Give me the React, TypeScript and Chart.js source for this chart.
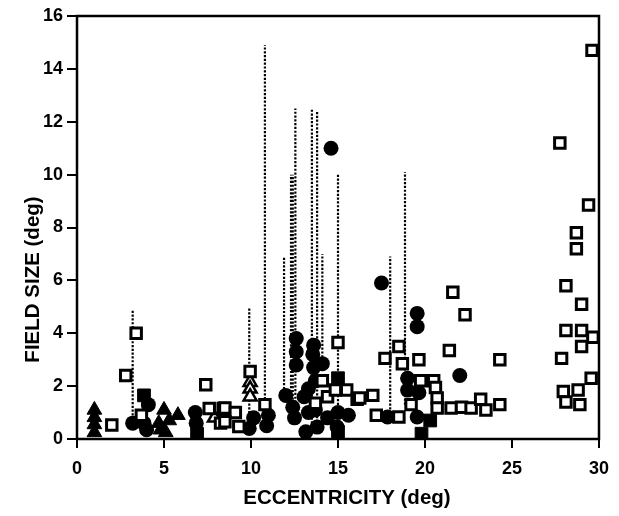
import React, { useEffect, useRef } from "react";
import { Chart, registerables } from "chart.js";

Chart.register(...registerables);

// Filled triangles
const filledTriX = [1.0, 1.0, 1.0, 1.0, 5.0, 4.7, 5.3, 5.8, 5.1, 4.8];
const filledTriY = [1.1, 0.82, 0.55, 0.25, 1.1, 0.6, 0.7, 0.9, 0.25, 0.35];

// Open triangles
const openTriX = [7.9, 9.95, 9.95, 9.95];
const openTriY = [0.8, 2.15, 1.9, 1.6];

// Filled circles
const circX = [3.2, 4.1, 3.85, 4.0, 6.8, 6.85, 10.15, 9.9, 11.0, 10.9,
  12.6, 12.6, 12.6, 12.0, 12.4, 12.5, 13.15, 13.05, 13.6, 13.55, 13.6, 14.1, 13.7, 13.7, 13.8, 14.4, 15.0, 15.6, 14.95, 13.3, 13.3,
  14.6, 17.5, 19.55, 19.55, 19.0, 19.0, 19.65, 19.55, 22.0, 17.85];
const circY = [0.6, 1.3, 0.6, 0.35, 1.0, 0.6, 0.8, 0.4, 0.9, 0.5,
  3.8, 3.3, 2.8, 1.65, 1.2, 0.8, 0.27, 1.6, 3.55, 3.2, 2.7, 2.85, 2.2, 1.1, 0.45, 0.8, 1.0, 0.9, 0.45, 1.9, 1.0,
  11.0, 5.9, 4.75, 4.25, 2.3, 1.85, 1.75, 0.83, 2.4, 0.83];

// Open squares
const sqX = [2.0, 3.4, 2.8, 3.7, 7.4, 7.6, 8.4, 8.25, 8.5, 9.1, 8.5, 9.3, 9.95, 10.8,
  14.1, 15.0, 14.4, 14.85, 15.5, 16.1, 13.7,
  21.6, 22.3, 21.4, 17.7, 18.5, 18.7, 19.65, 19.75, 20.5, 20.6, 20.7, 20.7, 21.5, 22.1, 22.65, 23.2, 23.5, 16.25, 17.0, 17.2, 18.5, 19.2,
  27.75, 29.4, 28.7, 28.7, 28.1, 29.0, 28.1, 29.0, 29.65, 29.0, 27.85, 24.3, 29.55, 27.95, 28.8, 28.1, 28.9, 24.3, 29.6];
const sqY = [0.53, 4.0, 2.4, 0.9, 2.05, 1.15, 1.15, 0.6, 1.17, 1.0, 0.65, 0.47, 2.55, 1.3,
  2.2, 3.65, 1.6, 1.85, 1.85, 1.5, 1.35,
  5.55, 4.7, 3.35, 3.05, 3.5, 2.85, 3.0, 2.2, 2.2, 1.95, 1.55, 1.17, 1.17, 1.2, 1.17, 1.5, 1.1, 1.55, 1.65, 0.9, 0.83, 1.3,
  11.2, 8.85, 7.8, 7.2, 5.8, 5.1, 4.1, 4.1, 3.85, 3.5, 3.05, 3.0, 2.3, 1.8, 1.85, 1.4, 1.3, 1.3, 14.7];

// Filled squares
const fsqX = [3.85, 6.9, 15.0, 20.3, 19.8, 15.0];
const fsqY = [1.65, 0.2, 2.3, 0.7, 0.2, 0.27];

// Dotted vertical lines (x, bottom, top)
const lineX = [3.2, 9.9, 10.8, 11.9, 12.3, 12.4, 12.55, 13.5, 13.8, 14.1, 15.0, 18.0, 18.85];
const lineBottom = [0.6, 0.4, 0.5, 1.6, 1.2, 1.2, 0.8, 0.3, 0.5, 2.8, 1.0, 0.83, 1.3];
const lineTop = [4.9, 5.0, 14.9, 6.9, 10.0, 10.0, 12.5, 12.5, 12.4, 7.0, 10.05, 6.9, 10.1];

const xTicks = [0, 5, 10, 15, 20, 25, 30];
const yTicks = [0, 2, 4, 6, 8, 10, 12, 14, 16];
const xTitle = "ECCENTRICITY (deg)";
const yTitle = "FIELD SIZE (deg)";

const zip = (xs: number[], ys: number[]) => xs.map((x, i) => ({ x, y: ys[i] }));

export default function App() {
  const ref = useRef<HTMLCanvasElement | null>(null);

  useEffect(() => {
    document.body.style.margin = "0";
    if (!ref.current) return;

    const lineData: any[] = [];
    lineX.forEach((x, i) => {
      lineData.push({ x, y: lineBottom[i] });
      lineData.push({ x, y: lineTop[i] });
      lineData.push({ x, y: null });
    });

    const font = "'Liberation Sans', Arial, Helvetica, sans-serif";

    const boxPlugin = {
      id: "box",
      afterDatasetsDraw(chart: any) {
        const { ctx, chartArea } = chart;
        ctx.save();
        ctx.strokeStyle = "#000";
        ctx.lineWidth = 2.5;
        ctx.strokeRect(chartArea.left, chartArea.top, chartArea.right - chartArea.left, chartArea.bottom - chartArea.top);
        ctx.restore();
      },
      afterDraw(chart: any) {
        const { ctx, chartArea } = chart;
        ctx.save();
        ctx.fillStyle = "#000";
        ctx.font = `bold 20.5px ${font}`;
        ctx.textAlign = "center";
        ctx.textBaseline = "middle";
        const cx = (chartArea.left + chartArea.right) / 2 + 9;
        ctx.fillText(xTitle, cx, chartArea.bottom + 59);
        const cy = (chartArea.top + chartArea.bottom) / 2 + 52;
        ctx.translate(33, cy);
        ctx.rotate(-Math.PI / 2);
        ctx.fillText(yTitle, 0, 0);
        ctx.restore();
      },
    };

    const chart = new Chart(ref.current, {
      type: "scatter",
      data: {
        datasets: [
          {
            label: "lines",
            data: lineData,
            showLine: true,
            spanGaps: false,
            borderColor: "#000",
            borderWidth: 2.2,
            borderDash: [2.2, 1.6],
            pointRadius: 0,
            order: 10,
          },
          {
            label: "filled circles",
            data: zip(circX, circY),
            pointStyle: "circle",
            pointRadius: 7.5,
            backgroundColor: "#000",
            borderColor: "#000",
            borderWidth: 0,
            order: 5,
          },
          {
            label: "filled triangles",
            data: zip(filledTriX, filledTriY),
            pointStyle: "triangle",
            pointRadius: 8.5,
            backgroundColor: "#000",
            borderColor: "#000",
            borderWidth: 1,
            order: 4,
          },
          {
            label: "filled squares",
            data: zip(fsqX, fsqY),
            pointStyle: "rect",
            pointRadius: 9,
            backgroundColor: "#000",
            borderColor: "#000",
            borderWidth: 1,
            order: 3,
          },
          {
            label: "open triangles",
            data: zip(openTriX, openTriY),
            pointStyle: "triangle",
            pointRadius: 7.5,
            backgroundColor: "#fff",
            borderColor: "#000",
            borderWidth: 2.5,
            order: 2,
          },
          {
            label: "open squares",
            data: zip(sqX, sqY),
            pointStyle: "rect",
            pointRadius: 7.4,
            backgroundColor: "#fff",
            borderColor: "#000",
            borderWidth: 3,
            order: 1,
          },
        ],
      },
      options: {
        animation: false,
        responsive: true,
        maintainAspectRatio: false,
        layout: { padding: { left: 0, right: 11, top: 16, bottom: 0 } },
        plugins: { legend: { display: false }, tooltip: { enabled: false } },
        scales: {
          x: {
            type: "linear",
            min: 0,
            max: 30,
            afterBuildTicks: (s: any) => { s.ticks = xTicks.map((v) => ({ value: v })); },
            afterFit: (s: any) => { s.height = 77; },
            border: { display: false },
            grid: { drawOnChartArea: false, drawTicks: true, tickLength: 9, color: "#000", lineWidth: 2 },
            ticks: { color: "#000", padding: 10, font: { family: font, size: 18, weight: "bold" } },
            title: { display: false },
          },
          y: {
            type: "linear",
            min: 0,
            max: 16,
            afterBuildTicks: (s: any) => { s.ticks = yTicks.map((v) => ({ value: v })); },
            afterFit: (s: any) => { s.width = 77; },
            border: { display: false },
            grid: { drawOnChartArea: false, drawTicks: true, tickLength: 10, color: "#000", lineWidth: 2 },
            ticks: { color: "#000", padding: 4, font: { family: font, size: 18, weight: "bold" } },
            title: { display: false },
          },
        },
      },
      plugins: [boxPlugin],
    });

    return () => chart.destroy();
  }, []);

  return (
    <div style={{ width: 619, height: 516, position: "relative" }}>
      <canvas ref={ref} />
    </div>
  );
}
